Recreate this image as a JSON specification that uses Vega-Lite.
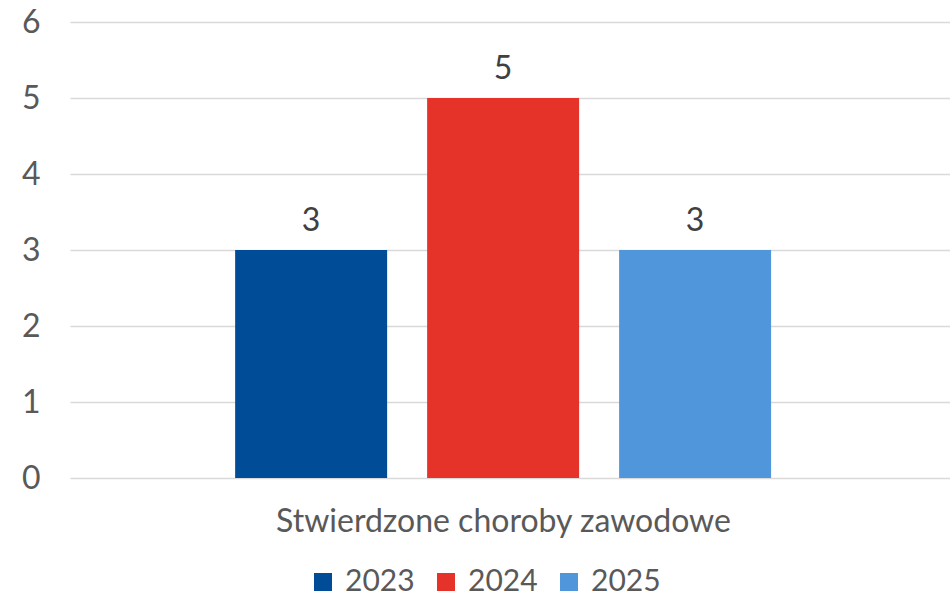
{
  "$schema": "https://vega.github.io/schema/vega-lite/v6.json",
  "autosize": "none",
  "width": 880,
  "height": 456,
  "padding": {"left": 70, "top": 22, "right": 0, "bottom": 118},
  "background": "white",
  "config": {
    "font": "Lato",
    "view": {"stroke": null}
  },
  "data": {
    "values": [
      {"kategoria": "Stwierdzone choroby zawodowe", "rok": "2023", "wartosc": 3},
      {"kategoria": "Stwierdzone choroby zawodowe", "rok": "2024", "wartosc": 5},
      {"kategoria": "Stwierdzone choroby zawodowe", "rok": "2025", "wartosc": 3}
    ]
  },
  "encoding": {
    "x": {
      "field": "rok",
      "type": "nominal",
      "scale": {"paddingInner": 0.2083, "paddingOuter": 0.896, "align": 0.48},
      "axis": {
        "title": "Stwierdzone choroby zawodowe",
        "labels": false,
        "ticks": false,
        "domain": false,
        "titleFont": "Lato",
        "titleFontSize": 32,
        "titleFontWeight": "normal",
        "titleColor": "#595959",
        "titlePadding": 28,
        "titleX": 433,
        "titleAlign": "center"
      }
    },
    "y": {
      "field": "wartosc",
      "type": "quantitative",
      "scale": {"domain": [0, 6]},
      "axis": {
        "title": null,
        "values": [0, 1, 2, 3, 4, 5, 6],
        "labelOverlap": false,
        "domain": false,
        "ticks": false,
        "labelFontSize": 32,
        "labelColor": "#595959",
        "labelPadding": 30,
        "gridColor": "#d9d9d9",
        "gridWidth": 1.5
      }
    }
  },
  "layer": [
    {
      "mark": {"type": "bar"},
      "encoding": {
        "color": {
          "field": "rok",
          "type": "nominal",
          "scale": {"domain": ["2023", "2024", "2025"], "range": ["#004C97", "#E5332A", "#4F96DA"]},
          "legend": {
            "title": null,
            "orient": "none",
            "direction": "horizontal",
            "legendX": 238,
            "legendY": 545,
            "symbolType": "square",
            "symbolSize": 324,
            "symbolStrokeWidth": 0,
            "labelFontSize": 30,
            "labelColor": "#595959",
            "labelOffset": 7,
            "columnPadding": 16
          }
        }
      }
    },
    {
      "mark": {"type": "text", "baseline": "alphabetic", "dy": -19, "fontSize": 32, "color": "#404040"},
      "encoding": {
        "text": {"field": "wartosc", "type": "quantitative"}
      }
    }
  ]
}
